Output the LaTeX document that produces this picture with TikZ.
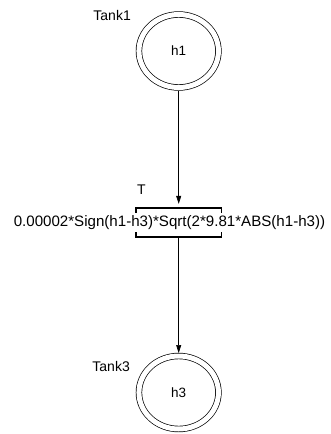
\documentclass[tikz,border=0pt]{standalone}
\usepackage{fontspec}
\setmainfont{Liberation Sans}
\usetikzlibrary{shapes.geometric,arrows.meta}
\begin{document}
\begin{tikzpicture}[x=1pt,y=-1pt,
  tank/.style={ellipse,draw=black,double,double distance=5pt,line width=0.7pt,
    minimum width=79.5pt,minimum height=73pt,inner sep=0pt,outer sep=3pt,
    font=\fontsize{13.5}{14}\selectfont},
  lbl/.style={font=\fontsize{14}{15}\selectfont,inner sep=0pt},
  trans/.style={rectangle,draw=none,minimum width=85pt,minimum height=29pt,inner sep=0pt},
  bracket/.style={line width=1.6pt,line cap=butt},
  arr/.style={line width=0.7pt,-{Triangle[length=8pt,width=5pt]}}]
\useasboundingbox (0,0) rectangle (331,434);
\node[tank] (tank1) at (178.7,51) {h1};
\node[tank] (tank3) at (178.7,392.5) {h3};
\node[trans] (tr) at (178.7,222.5) {};
\node[lbl,anchor=east] (l1) at (131,15) {Tank1};
\node[lbl,anchor=east] (l3) at (130,366) {Tank3};
\node[lbl] (lt) at (141.5,190) {T};
\node[inner sep=0pt,font=\fontsize{15.1}{16}\selectfont] (f) at (169.5,222.5) {0.00002*Sign(h1-h3)*Sqrt(2*9.81*ABS(h1-h3))};
\draw[bracket] ([yshift=-5pt]tr.north west) -- (tr.north west) -- (tr.north east) -- ([yshift=-5pt]tr.north east);
\draw[bracket] ([yshift=5pt]tr.south west) -- (tr.south west) -- (tr.south east) -- ([yshift=5pt]tr.south east);
\draw[arr,shorten >=4pt] (tank1) -- (tr);
\draw[arr] (tr) -- (tank3);
\end{tikzpicture}
\end{document}
